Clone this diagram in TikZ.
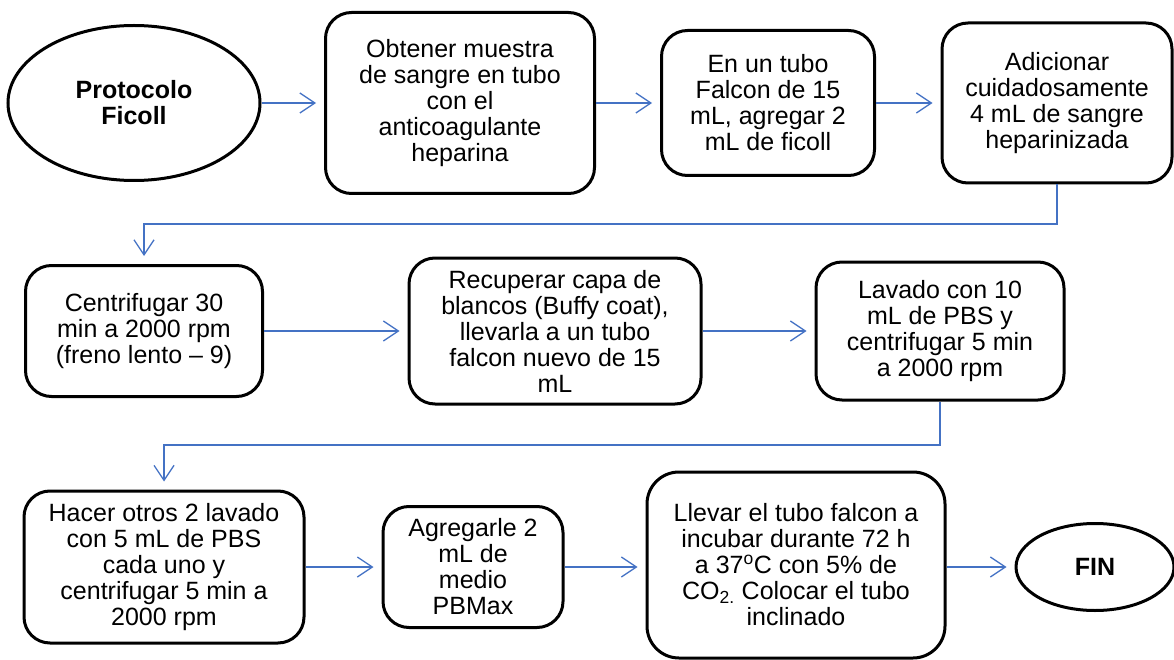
\documentclass[tikz,border=0pt]{standalone}
\usepackage{fontspec}
\setmainfont{Liberation Sans}
\usetikzlibrary{arrows.meta,shapes.geometric}
\definecolor{arrowblue}{RGB}{68,114,196}

\begin{document}
\begin{tikzpicture}[x=1pt,y=-1pt,
  font=\fontsize{25}{26}\selectfont,
  stepbox/.style={draw=black,line width=3pt,rounded corners=26pt,align=center,inner sep=0pt},
  terminal/.style={draw=black,ellipse,line width=3pt,align=center,inner sep=0pt,font=\fontsize{25}{26}\selectfont\bfseries},
  flow/.style={draw=arrowblue,line width=1.3pt,-{Straight Barb[length=15pt,width=20pt,line width=1.3pt]},shorten >=8pt}]
\useasboundingbox (0,0) rectangle (1174,660);
% first row
\node[terminal,minimum width=252pt,minimum height=155pt] (start) at (134,103) {Protocolo\\Ficoll};
\node[stepbox,minimum width=269pt,minimum height=181pt] (obtener) at (460,103) {Obtener muestra\\de sangre en tubo\\con el\\anticoagulante\\heparina};
\node[stepbox,minimum width=213pt,minimum height=145pt] (falcon) at (768,103) {En un tubo\\Falcon de 15\\mL, agregar 2\\mL de ficoll};
\node[stepbox,minimum width=230pt,minimum height=160pt] (adicionar) at (1057,103) {Adicionar\\cuidadosamente\\4 mL de sangre\\heparinizada};
% second row
\node[stepbox,minimum width=237pt,minimum height=131pt] (centrifugar) at (144,331) {Centrifugar 30\\min a 2000 rpm\\(freno lento -- 9)};
\node[stepbox,minimum width=292pt,minimum height=146pt] (recuperar) at (555,331) {Recuperar capa de\\blancos (Buffy coat),\\llevarla a un tubo\\falcon nuevo de 15\\mL};
\node[stepbox,minimum width=248pt,minimum height=138pt] (lavado) at (940,331) {Lavado con 10\\mL de PBS y\\centrifugar 5 min\\a 2000 rpm};
% third row
\node[stepbox,minimum width=280pt,minimum height=152pt] (lavados) at (164,567) {Hacer otros 2 lavado\\con 5 mL de PBS\\cada uno y\\centrifugar 5 min a\\2000 rpm};
\node[stepbox,minimum width=180pt,minimum height=121pt] (medio) at (473,567) {Agregarle 2\\mL de\\medio\\PBMax};
\node[stepbox,minimum width=298pt,minimum height=186pt,rounded corners=32pt] (incubar) at (796,565) {Llevar el tubo falcon a\\incubar durante 72 h\\a 37\textsuperscript{o}C con 5\% de\\CO\textsubscript{2.} Colocar el tubo\\inclinado};
\node[terminal,minimum width=158pt,minimum height=87pt] (fin) at (1095,567) {FIN};
% connectors
\coordinate (bend1) at (0,224);
\coordinate (bend2) at (0,445);
\draw[flow] (start) -- (obtener);
\draw[flow] (obtener) -- (falcon);
\draw[flow] (falcon) -- (adicionar);
\draw[flow] (adicionar.south) -- (adicionar.south |- bend1) -| (centrifugar.north);
\draw[flow] (centrifugar) -- (recuperar);
\draw[flow] (recuperar) -- (lavado);
\draw[flow] (lavado.south) -- (lavado.south |- bend2) -| (lavados.north);
\draw[flow] (lavados) -- (medio);
\draw[flow] (medio.east) -- (incubar.west |- medio.east);
\draw[flow] (incubar.east |- fin.west) -- (fin.west);
\end{tikzpicture}
\end{document}
